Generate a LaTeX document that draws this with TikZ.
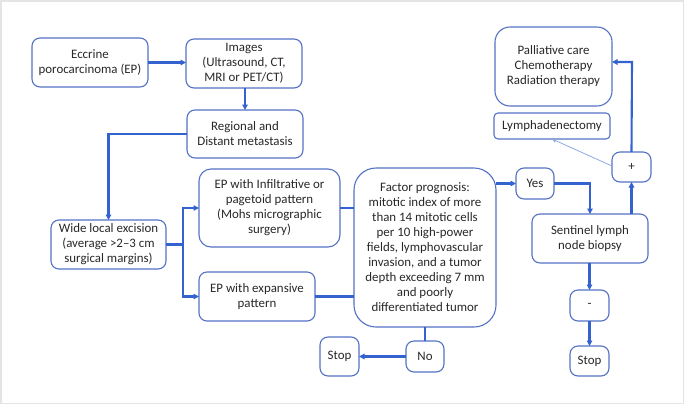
\documentclass[tikz,border=0pt]{standalone}
\usepackage{fontspec}
\setmainfont{Carlito}
\usetikzlibrary{arrows.meta}
\definecolor{boxc}{RGB}{84,114,196}
\definecolor{linec}{RGB}{52,98,206}
\definecolor{thinc}{RGB}{140,170,225}
\definecolor{txtc}{RGB}{40,40,40}
\definecolor{framec}{RGB}{228,228,228}
\tikzset{
  bx/.style={draw=boxc, line width=1.1pt, rounded corners=8pt, fill=white,
    align=center, text=txtc, font=\fontsize{12.9}{15}\selectfont,
    inner sep=1pt, outer sep=0pt},
  conn/.style={draw=linec, line width=2.1pt},
  arr/.style={conn, -{Triangle[length=5.5pt,width=5.5pt]}},
  thinarr/.style={draw=thinc, line width=0.8pt, -{Triangle[length=4pt,width=4pt]}}
}
\begin{document}
\begin{tikzpicture}[x=1pt,y=-1pt]
\useasboundingbox (0,0) rectangle (685,405);
\draw[framec, line width=1.5pt] (0.75,0.75) rectangle (683.5,403.5);

\node[bx, minimum width=116pt, minimum height=49pt] (ecc) at (90,62.5) {Eccrine\\porocarcinoma (EP)};
\node[bx, minimum width=116pt, minimum height=49pt] (img) at (244,63.5) {Images\\(Ultrasound, CT,\\MRI or PET/CT)};
\node[bx, minimum width=116pt, minimum height=48pt] (reg) at (245,134) {Regional and\\Distant metastasis};
\node[bx, minimum width=115pt, minimum height=49pt] (wle) at (108.5,244.5) {Wide local excision\\(average >2--3 cm\\surgical margins)};
\node[bx, rounded corners=12pt, minimum width=141pt, minimum height=78pt] (inf) at (269.5,208) {EP with Infiltrative or\\pagetoid pattern\\(Mohs micrographic\\surgery)};
\node[bx, minimum width=116pt, minimum height=49pt] (exp) at (257,296.5) {EP with expansive\\pattern};
\node[bx, rounded corners=22pt, minimum width=142pt, minimum height=159pt] (fac) at (425,247.5) {Factor prognosis:\\mitotic index of more\\than 14 mitotic cells\\per 10 high-power\\fields, lymphovascular\\invasion, and a tumor\\depth exceeding 7 mm\\and poorly\\differentiated tumor};
\node[bx, minimum width=38pt, minimum height=31pt] (no) at (425,356.5) {No};
\node[bx, minimum width=39pt, minimum height=39pt] (stopl) at (339.5,356.5) {Stop};
\node[bx, minimum width=38pt, minimum height=31pt] (yes) at (535,183.5) {Yes};
\node[bx, minimum width=116pt, minimum height=49pt] (sen) at (590,238.5) {Sentinel lymph\\node biopsy};
\node[bx, minimum width=39pt, minimum height=31pt] (minus) at (589.5,305.5) {-};
\node[bx, minimum width=39pt, minimum height=30pt] (stopr) at (589.5,361) {Stop};
\node[bx, minimum width=39pt, minimum height=30pt] (plus) at (631.5,167) {+};
\node[bx, rounded corners=15pt, minimum width=117pt, minimum height=79pt] (pal) at (553.5,66.5) {Palliative care\\Chemotherapy\\Radiation therapy};
\node[bx, rounded corners=4pt, minimum width=116pt, minimum height=26pt] (lym) at (552,126) {Lymphadenectomy};

\coordinate (split) at (183,244.5);
\coordinate (regturn) at (108.5,134);
\coordinate (yesturn) at (590,183.5);
\coordinate (plusturn) at (632,62);

\draw[arr] (ecc.east) -- (img.west |- ecc.east);
\draw[arr] (img.south -| reg.north) -- (reg.north);
\draw[arr] (reg.west) -- (regturn) -- (wle.north);
\draw[conn] (wle.east) -- (split);
\draw[arr] (split) |- (inf.west);
\draw[arr] (split) |- (exp.west);
\draw[conn] (inf.east) -- (fac.west |- inf.east);
\draw[conn] (exp.east) -- (fac.west |- exp.east);
\draw[arr] (fac.east |- yes.west) -- (yes.west);
\draw[arr] (yes.east) -- (yesturn) -- (sen.north -| yesturn);
\draw[arr] (sen.south -| minus.north) -- (minus.north);
\draw[arr] (minus.south) -- (stopr.north);
\draw[arr] (sen.north -| plus.south) -- (plus.south);
\draw[arr] (plus.north) -- (plusturn) -- (pal.east |- plusturn);
\draw[thinarr] (plus.west |- 0,166) -- (lym.south);
\draw[conn] (fac.south) -- (no.north);
\draw[arr] (no.west) -- (stopl.east |- no.west);
\end{tikzpicture}
\end{document}
